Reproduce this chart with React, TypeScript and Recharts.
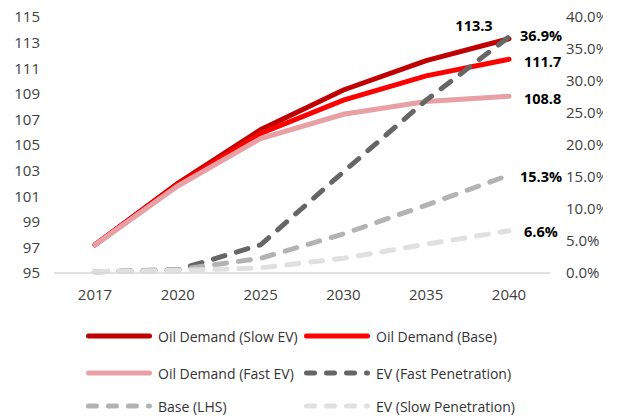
import React from "react";
import { LineChart, Line, XAxis, YAxis, LabelList } from "recharts";

const years = ["2017", "2020", "2025", "2030", "2035", "2040"];
const oilSlowEV = [97.2, 102.0, 106.2, 109.3, 111.6, 113.3];
const oilBase = [97.2, 101.9, 105.9, 108.5, 110.4, 111.7];
const oilFastEV = [97.2, 101.8, 105.5, 107.4, 108.4, 108.8];
const evFast = [0.002, 0.005, 0.044, 0.158, 0.27, 0.369];
const evBase = [0.002, 0.005, 0.023, 0.061, 0.106, 0.153];
const evSlow = [0.002, 0.004, 0.008, 0.023, 0.045, 0.066];

const leftTicks = [95, 97, 99, 101, 103, 105, 107, 109, 111, 113, 115];
const rightTicks = [0, 0.05, 0.1, 0.15, 0.2, 0.25, 0.3, 0.35, 0.4];

const data = years.map((year, i) => ({
  year,
  oilSlowEV: oilSlowEV[i],
  oilBase: oilBase[i],
  oilFastEV: oilFastEV[i],
  evFast: evFast[i],
  evBase: evBase[i],
  evSlow: evSlow[i],
}));

const FONT = "'Open Sans', 'Noto Sans', sans-serif";
const last = years.length - 1;

type Fmt = (v: number) => string;

// Draws a bold value label next to the final point of a series only
const endLabel =
  (fmt: Fmt, dx: number, dy: number, anchor: "start" | "middle") =>
  (props: any) => {
    const { x, y, value, index } = props;
    if (index !== last) return null;
    return (
      <text
        x={x + dx}
        y={y + dy}
        textAnchor={anchor}
        dominantBaseline="central"
        fontFamily={FONT}
        fontSize={14.5}
        fontWeight={700}
        fill="#000"
      >
        {fmt(value)}
      </text>
    );
  };

const num: Fmt = (v) => v.toFixed(1);
const pct: Fmt = (v) => (v * 100).toFixed(1) + "%";

const legendItems = [
  { name: "Oil Demand (Slow EV)", color: "#C00000", dashed: false },
  { name: "Oil Demand (Base)", color: "#FF0000", dashed: false },
  { name: "Oil Demand (Fast EV)", color: "#E8A0A4", dashed: false },
  { name: "EV (Fast Penetration)", color: "#666666", dashed: true },
  { name: "Base (LHS)", color: "#B3B3B3", dashed: true },
  { name: "EV (Slow Penetration)", color: "#E0E0E0", dashed: true },
];

const legendRows = [336, 373, 406];
const legendCols = [86, 304];

const tickStyle = { fontFamily: FONT, fontSize: 15, fill: "#404040" };

export default function App() {
  return (
    <div style={{ position: "absolute", left: 0, top: 0, width: 619, height: 416, background: "#fff" }}>
      <div style={{ position: "absolute", left: 0, top: 0, width: 603, height: 416, overflow: "hidden" }}>
        <LineChart
          width={619}
          height={416}
          data={data}
          margin={{ top: 17, right: 0, bottom: 113, left: 0 }}
        >
          <XAxis
            dataKey="year"
            padding={{ left: 41, right: 41 }}
            axisLine={{ stroke: "#D9D9D9", strokeWidth: 1.5 }}
            tickLine={false}
            tickMargin={10}
            height={30}
            tick={tickStyle}
          />
          <YAxis
            yAxisId="left"
            domain={[95, 115]}
            ticks={leftTicks}
            interval={0}
            axisLine={false}
            tickLine={false}
            width={54}
            tickMargin={8}
            tick={tickStyle}
          />
          <YAxis
            yAxisId="right"
            orientation="right"
            domain={[0, 0.4]}
            ticks={rightTicks}
            interval={0}
            axisLine={false}
            tickLine={false}
            width={69}
            tickMargin={10}
            tickFormatter={(v: number) => (v * 100).toFixed(1) + "%"}
            tick={{ ...tickStyle, textAnchor: "start" }}
          />
          <Line
            yAxisId="left"
            dataKey="oilSlowEV"
            stroke="#C00000"
            strokeWidth={5}
            strokeLinecap="round"
            dot={false}
            isAnimationActive={false}
          >
            <LabelList dataKey="oilSlowEV" content={endLabel(num, -35, -13, "middle")} />
          </Line>
          <Line
            yAxisId="left"
            dataKey="oilBase"
            stroke="#FF0000"
            strokeWidth={5}
            strokeLinecap="round"
            dot={false}
            isAnimationActive={false}
          >
            <LabelList dataKey="oilBase" content={endLabel(num, 15, 2, "start")} />
          </Line>
          <Line
            yAxisId="left"
            dataKey="oilFastEV"
            stroke="#E8A0A4"
            strokeWidth={5}
            strokeLinecap="round"
            dot={false}
            isAnimationActive={false}
          >
            <LabelList dataKey="oilFastEV" content={endLabel(num, 15, 2, "start")} />
          </Line>
          <Line
            yAxisId="right"
            dataKey="evFast"
            stroke="#666666"
            strokeWidth={5}
            strokeDasharray="12 12"
            strokeLinecap="round"
            dot={false}
            isAnimationActive={false}
          >
            <LabelList dataKey="evFast" content={endLabel(pct, 11, -1, "start")} />
          </Line>
          <Line
            yAxisId="right"
            dataKey="evBase"
            stroke="#B3B3B3"
            strokeWidth={5}
            strokeDasharray="12 12"
            strokeLinecap="round"
            dot={false}
            isAnimationActive={false}
          >
            <LabelList dataKey="evBase" content={endLabel(pct, 11, 1, "start")} />
          </Line>
          <Line
            yAxisId="right"
            dataKey="evSlow"
            stroke="#E0E0E0"
            strokeWidth={5}
            strokeDasharray="12 12"
            strokeLinecap="round"
            dot={false}
            isAnimationActive={false}
          >
            <LabelList dataKey="evSlow" content={endLabel(pct, 15, 1, "start")} />
          </Line>
        </LineChart>
      </div>
      <svg
        width={619}
        height={416}
        style={{ position: "absolute", left: 0, top: 0, pointerEvents: "none" }}
      >
        {legendItems.map((item, i) => {
          const x = legendCols[i % 2];
          const y = legendRows[Math.floor(i / 2)];
          return (
            <g key={item.name}>
              <line
                x1={x + 2.5}
                x2={x + 63.5}
                y1={y}
                y2={y}
                stroke={item.color}
                strokeWidth={5}
                strokeLinecap="round"
                strokeDasharray={item.dashed ? "8 12" : undefined}
              />
              <text
                x={x + 72}
                y={y}
                dominantBaseline="central"
                fontFamily={FONT}
                fontSize={14}
                fill="#333"
              >
                {item.name}
              </text>
            </g>
          );
        })}
      </svg>
    </div>
  );
}
